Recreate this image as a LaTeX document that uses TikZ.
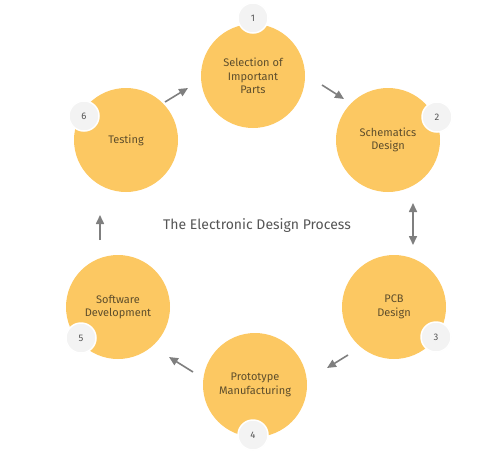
\documentclass[tikz,border=0pt]{standalone}
\usepackage{fontspec}
\setmainfont{Fira Sans}
\usetikzlibrary{arrows.meta}
\definecolor{stepfill}{HTML}{FCC862}
\definecolor{steptext}{HTML}{5E4E2C}
\definecolor{badgefill}{HTML}{F3F3F3}
\definecolor{badgetext}{HTML}{555555}
\definecolor{arrowgray}{HTML}{7F7F7F}
\definecolor{titlegray}{HTML}{555555}
\tikzset{
  stepcircle/.style={circle, fill=stepfill, minimum size=104pt, inner sep=0pt,
    align=center, text=steptext, font=\fontsize{11}{13.5}\selectfont},
  badge/.style={circle, fill=badgefill, draw=white, line width=1.5pt, minimum size=30pt,
    inner sep=0pt, text=badgetext, font=\fontsize{9.5}{11}\selectfont},
  flowarrow/.style={draw=arrowgray, line width=1.6pt, -{Triangle[length=9pt,width=8pt]}},
  botharrow/.style={draw=arrowgray, line width=1.6pt, {Triangle[length=9pt,width=8pt]}-{Triangle[length=9pt,width=8pt]}}
}
\begin{document}
\begin{tikzpicture}[x=1pt,y=-1pt]
\useasboundingbox (0,0) rectangle (500,471);
\node[stepcircle] (s1) at (253,76) {Selection of\\Important\\Parts};
\node[stepcircle] (s2) at (388,140) {Schematics\\Design};
\node[stepcircle] (s3) at (394,307) {PCB\\Design};
\node[stepcircle] (s4) at (255,385) {Prototype\\Manufacturing};
\node[stepcircle] (s5) at (118,307) {Software\\Development};
\node[stepcircle] (s6) at (126,140) {Testing};
\node[badge] (b1) at (253,18) {1};
\node[badge] (b2) at (437,117) {2};
\node[badge] (b3) at (436,337) {3};
\node[badge] (b4) at (253,435) {4};
\node[badge] (b5) at (81,338) {5};
\node[badge] (b6) at (84,116) {6};
\node[text=titlegray, font=\fontsize{14}{16}\selectfont] (title) at (257,226) {The Electronic Design Process};
\coordinate (a12s) at (322,85);
\coordinate (a12e) at (344,99);
\coordinate (a23s) at (413,203);
\coordinate (a23e) at (413,245);
\coordinate (a34s) at (348,355);
\coordinate (a34e) at (327,368);
\coordinate (a45s) at (193,372);
\coordinate (a45e) at (169,357);
\coordinate (a56s) at (100,240);
\coordinate (a56e) at (100,215);
\coordinate (a61s) at (165,102);
\coordinate (a61e) at (188,88);
\draw[flowarrow] (a12s) -- (a12e);
\draw[botharrow] (a23s) -- (a23e);
\draw[flowarrow] (a34s) -- (a34e);
\draw[flowarrow] (a45s) -- (a45e);
\draw[flowarrow] (a56s) -- (a56e);
\draw[flowarrow] (a61s) -- (a61e);
\end{tikzpicture}
\end{document}
